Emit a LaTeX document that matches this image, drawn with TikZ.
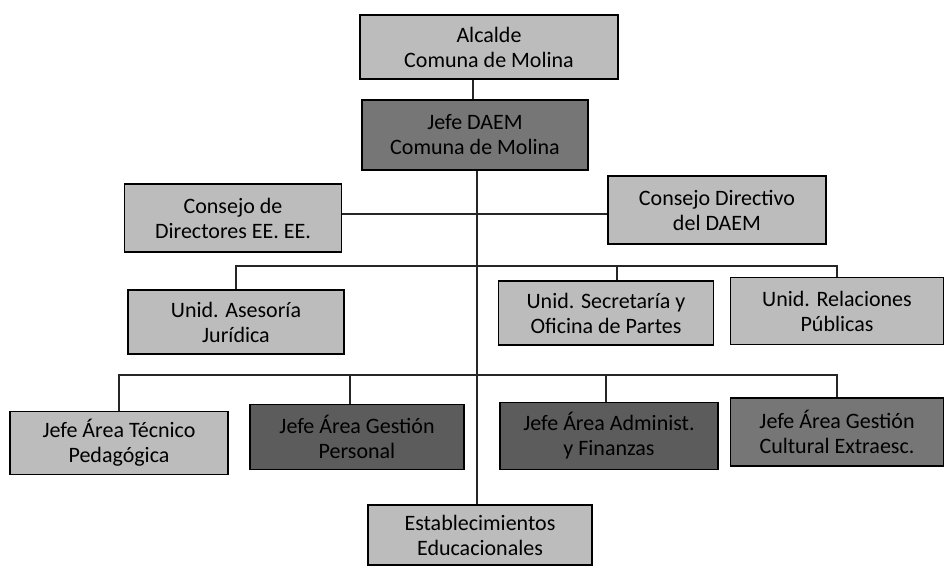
\documentclass[tikz,border=0pt]{standalone}
\usepackage{fontspec}
\setmainfont{Carlito}
\usepackage{tikz}
\usetikzlibrary{positioning}
\definecolor{boxlight}{RGB}{188,188,188}
\definecolor{boxmid}{RGB}{118,118,118}
\definecolor{boxdark}{RGB}{92,92,92}
\tikzset{
  unit/.style={draw=black, line width=1.2pt, fill=boxlight, align=center,
    font=\fontsize{22}{25}\selectfont, inner sep=2pt, minimum height=64pt},
  darkunit/.style={unit, fill=boxdark},
  midunit/.style={unit, fill=boxmid},
  link/.style={draw=black!85, line width=1.3pt}
}
\begin{document}
\begin{tikzpicture}[x=1pt,y=-1pt]
	  \useasboundingbox (0,0) rectangle (945,565);
	  % Define nodes
	  \node[unit, minimum width=258pt]     (alcalde) at (489,47)  {Alcalde\\Comuna de Molina};
	  \node[midunit, minimum width=226pt, minimum height=70pt] (jefe) at (475,135) {Jefe DAEM\\Comuna de Molina};
	  \node[unit, minimum width=217pt, minimum height=68pt] (cdir)  at (233,218) {Consejo de\\Directores EE. EE.};
	  \node[unit, minimum width=218pt, minimum height=68pt] (cdaem) at (717,210) {Consejo Directivo\\del DAEM};
	  \node[unit, minimum width=216pt]     (asesor) at (236,322) {Unid. Asesoría\\Jurídica};
	  \node[unit, minimum width=215pt]     (secr)   at (606,313) {Unid. Secretaría y\\Oficina de Partes};
	  \node[unit, minimum width=213pt, minimum height=67pt] (rel) at (837,311) {Unid. Relaciones\\Públicas};
	  \node[unit, minimum width=218pt, minimum height=63pt] (tec) at (119,443) {Jefe Área Técnico\\Pedagógica};
	  \node[darkunit, minimum width=214pt, minimum height=65pt] (pers) at (357,437) {Jefe Área Gestión\\Personal};
	  \node[darkunit, minimum width=218pt, minimum height=67pt] (admin) at (609,436) {Jefe Área Administ.\\y Finanzas};
	  \node[midunit, minimum width=213pt, minimum height=68pt] (cult) at (837,432) {Jefe Área Gestión\\Cultural Extraesc.};
	  \node[unit, minimum width=224pt, minimum height=60pt] (estab) at (480,535) {Establecimientos\\Educacionales};
	  \coordinate (bus1) at (477,266);
	  \coordinate (bus2) at (477,375);

	  % Connect the nodes
	  \draw[link] ([xshift=-2pt]alcalde.south -| jefe.north) -- ([xshift=-2pt]jefe.north);
	  \draw[link] (jefe.south -| bus1) -- (estab.north -| bus1);
	  \draw[link] ([yshift=4pt]cdir.east) -- ([yshift=4pt]cdir.east -| cdaem.west);
	  \draw[link] (asesor.north) |- (rel.north |- bus1) -- (rel.north);
	  \draw[link] ([xshift=11pt]secr.north) -- ([xshift=11pt]secr.north |- bus1);
	  \draw[link] (tec.north) |- (cult.north |- bus2) -- (cult.north);
	  \draw[link] ([xshift=-7pt]pers.north) -- ([xshift=-7pt]pers.north |- bus2);
	  \draw[link] ([xshift=-3pt]admin.north) -- ([xshift=-3pt]admin.north |- bus2);
	\end{tikzpicture}
\end{document}
